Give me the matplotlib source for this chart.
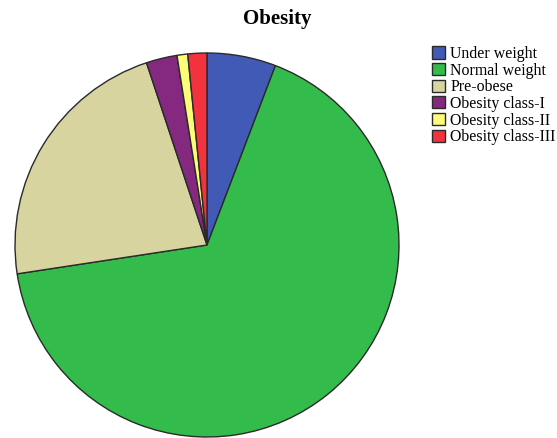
import matplotlib.pyplot as plt

categories = [
    "Under weight",
    "Normal weight",
    "Pre-obese",
    "Obesity class-I",
    "Obesity class-II",
    "Obesity class-III",
]
percentages = [5.8, 66.8, 22.3, 2.6, 0.9, 1.6]
colors = ["#415ab5", "#33bc4b", "#d7d4a0", "#85287f", "#fdfc78", "#f2333d"]

plt.rcParams["font.family"] = ["Liberation Serif", "DejaVu Serif"]

fig = plt.figure(figsize=(5.57, 4.38), dpi=100)
ax = fig.add_axes([15 / 557, 1 / 438, 384 / 557, 384 / 438])

wedges, _ = ax.pie(
    percentages,
    colors=colors,
    startangle=90,
    counterclock=False,
    radius=1.0,
    wedgeprops={"edgecolor": "#2a2a2a", "linewidth": 1.0},
)
ax.set_xlim(-1.0, 1.0)
ax.set_ylim(-1.0, 1.0)
ax.set_aspect("auto")

fig.text(277 / 557, 1 - 19 / 438, "Obesity", ha="center", va="center",
         fontsize=15, fontweight="bold")

fig.legend(
    wedges,
    categories,
    loc="upper left",
    bbox_to_anchor=(432 / 557, 1 - 46 / 438),
    frameon=False,
    fontsize=11.4,
    handlelength=0.8,
    handleheight=0.8,
    handletextpad=0.35,
    labelspacing=0.04,
    borderaxespad=0,
    borderpad=0,
)

fig.savefig("out.png", dpi=100)
